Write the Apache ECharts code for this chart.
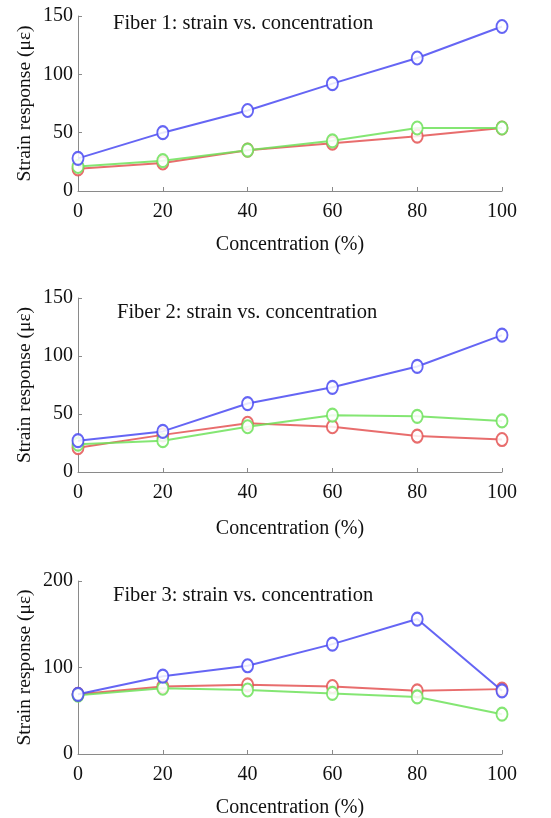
<!DOCTYPE html>
<html>
<head>
<meta charset="utf-8">
<script src="https://cdn.jsdelivr.net/npm/echarts@6/dist/echarts.min.js"></script>
<style>
  html, body { margin: 0; padding: 0; background: #fff; }
  #main { width: 551px; height: 818px; }
</style>
</head>
<body>
<div id="main"></div>
<script>
// 浓度 (x)
var conc = [0, 20, 40, 60, 80, 100];
var xTicks = ['0', '20', '40', '60', '80', '100'];

// Fiber 1
var fiber1Blue  = [28, 50, 69, 92, 114, 141];
var fiber1Red   = [19, 24, 35, 41, 47, 54];
var fiber1Green = [21, 26, 35, 43, 54, 54];

// Fiber 2
var fiber2Blue  = [27, 35, 59, 73, 91, 118];
var fiber2Red   = [21, 32, 42, 39, 31, 28];
var fiber2Green = [24, 27, 39, 49, 48, 44];

// Fiber 3
var fiber3Blue  = [69, 90, 102, 127, 156, 73];
var fiber3Red   = [69, 78, 80, 78, 73, 75];
var fiber3Green = [68, 76, 74, 70, 66, 46];

var titles = ['Fiber 1: strain vs. concentration',
              'Fiber 2: strain vs. concentration',
              'Fiber 3: strain vs. concentration'];
var yMax = [150, 150, 200];
var yStep = [50, 50, 100];

(function(){
    var myChart = echarts.init(document.getElementById('main'));
    var font = '"Liberation Serif", "Times New Roman", serif';
    var grids = [
        {left: 78, top: 16, width: 424, height: 175, outerBoundsMode: 'none'},
        {left: 78, top: 298, width: 424, height: 174, outerBoundsMode: 'none'},
        {left: 78, top: 581, width: 424, height: 173, outerBoundsMode: 'none'}
    ];
    var titleTops = [8, 297, 580];
    var titleLefts = [108, 112, 108];
    var xNameGaps = [44, 47, 44];
    var sets = [
        [fiber1Red, fiber1Green, fiber1Blue],
        [fiber2Red, fiber2Green, fiber2Blue],
        [fiber3Red, fiber3Green, fiber3Blue]
    ];
    var colors = ['#e45454', '#6ee25a', '#4a4af2'];

    function pair(vals) {
        return conc.map(function (c, i) { return [c, vals[i]]; });
    }

    var xAxis = [], yAxis = [], series = [], title = [];
    for (var g = 0; g < 3; g++) {
        title.push({
            text: titles[g],
            left: titleLefts[g],
            top: titleTops[g],
            textStyle: {fontFamily: font, fontSize: 20.5, fontWeight: 'normal', color: '#111'}
        });
        xAxis.push({
            type: 'value',
            gridIndex: g,
            min: 0, max: 100, interval: 20,
            name: 'Concentration (%)',
            nameLocation: 'middle',
            nameGap: xNameGaps[g],
            nameTextStyle: {fontFamily: font, fontSize: 20, color: '#111'},
            axisLine: {show: true, lineStyle: {color: '#8a8a8a', width: 1}},
            axisTick: {show: true, inside: true, length: 4, lineStyle: {color: '#8a8a8a'}},
            axisLabel: {
                fontFamily: font, fontSize: 20, color: '#111', margin: 11,
                formatter: function (v) { return xTicks[conc.indexOf(v)]; }
            },
            splitLine: {show: false}
        });
        yAxis.push({
            type: 'value',
            gridIndex: g,
            min: 0, max: yMax[g], interval: yStep[g],
            name: 'Strain response (με)',
            nameLocation: 'middle',
            nameGap: 43,
            nameMoveOverlap: false,
            nameTextStyle: {fontFamily: font, fontSize: 19.5, color: '#111'},
            axisLine: {show: true, lineStyle: {color: '#8a8a8a', width: 1}},
            axisTick: {show: true, inside: true, length: 4, lineStyle: {color: '#8a8a8a'}},
            axisLabel: {fontFamily: font, fontSize: 20, color: '#111', margin: 5},
            splitLine: {show: false}
        });
        for (var s = 0; s < 3; s++) {
            series.push({
                type: 'line',
                xAxisIndex: g,
                yAxisIndex: g,
                data: pair(sets[g][s]),
                symbol: 'emptyCircle',
                symbolSize: [11, 13],
                showAllSymbol: true,
                lineStyle: {color: colors[s], width: 2, opacity: 0.85},
                itemStyle: {color: colors[s], borderColor: colors[s], borderWidth: 2, opacity: 0.85},
                z: 2 + s,
                animation: false
            });
        }
    }

    var option = {
        backgroundColor: '#fff',
        animation: false,
        title: title,
        grid: grids,
        xAxis: xAxis,
        yAxis: yAxis,
        series: series
    };
    myChart.setOption(option);
})();
</script>
</body>
</html>
